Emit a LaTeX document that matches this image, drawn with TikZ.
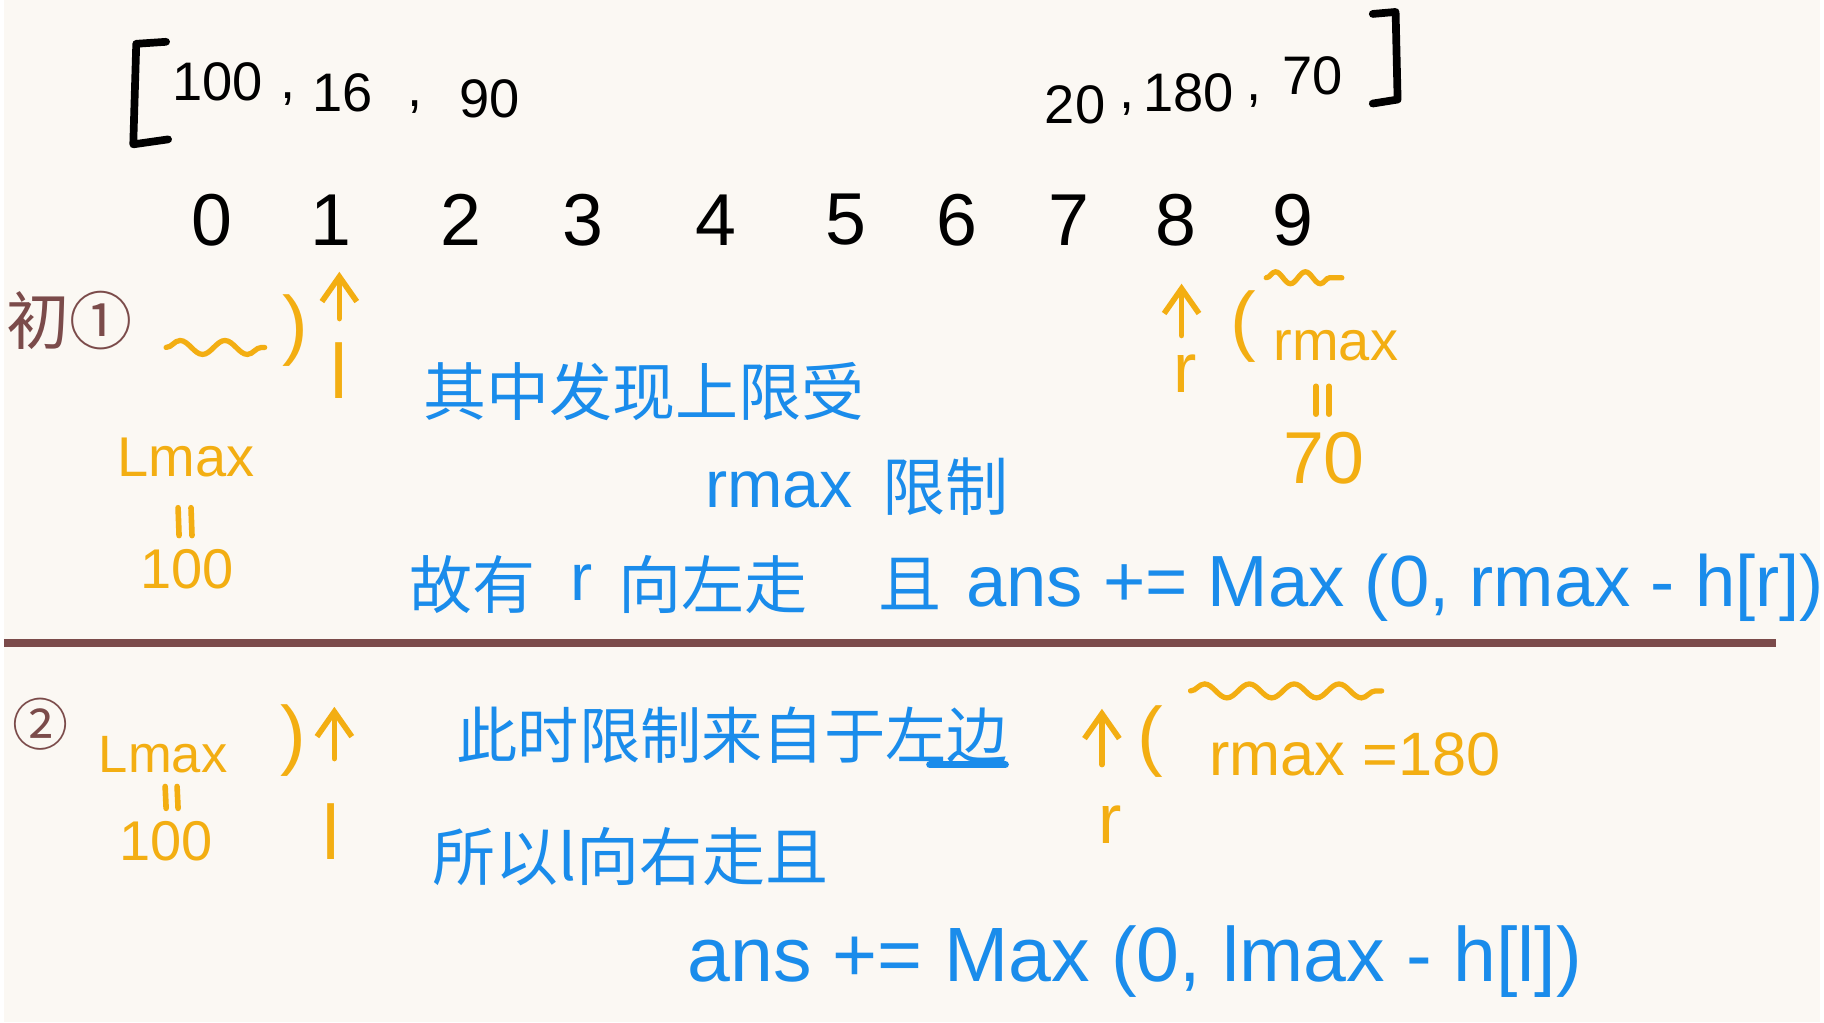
\documentclass[tikz,border=0pt]{standalone}
\usepackage{fontspec}
\setmainfont{Liberation Sans}
\newfontfamily\cjk{Noto Sans CJK SC}
\usetikzlibrary{arrows.meta,decorations.pathmorphing}
\definecolor{bg}{HTML}{FBF8F3}
\definecolor{hblue}{HTML}{1A8CEB}
\definecolor{horange}{HTML}{F3AE12}
\definecolor{hbrown}{HTML}{7B4B4A}
\begin{document}
\begin{tikzpicture}[x=0.01cm,y=-0.01cm,
  every node/.style={inner sep=0pt},
  numtop/.style={text=black,font=\fontsize{15.5}{16}\selectfont},
  idx/.style={text=black,font=\fontsize{21}{22}\selectfont},
  bl/.style={text=hblue,font=\cjk\fontsize{18}{19}\selectfont,anchor=west},
  blf/.style={text=hblue,font=\fontsize{19}{20}\selectfont,anchor=west},
  og/.style={text=horange,font=\fontsize{16}{17}\selectfont},
  br/.style={text=hbrown,font=\cjk\fontsize{18}{19}\selectfont,anchor=west},
  parrow/.style={draw=horange,line width=1.6pt,line cap=round,-{Straight Barb[length=2.5mm,width=3.5mm]}},
  wavy/.style={draw=horange,line width=1.5pt,line cap=round,decorate,decoration={snake,segment length=4.5mm,amplitude=0.7mm}},
  eqbar/.style={draw=horange,line width=1.6pt,line cap=round},
  brk/.style={draw=black,line width=2.2pt,line cap=round,line join=round}]
\path[fill=bg] (0,0) rectangle (1824,1027);
% top array
\draw[brk] (163,42) -- (133,44) -- (130,145) -- (165,140);
\node[numtop] (a0) at (215,82) {100};
\node[numtop] (c0) at (285,100) {,};
\node[numtop] (a1) at (340,93) {16};
\node[numtop] (c1) at (413,108) {,};
\node[numtop] (a2) at (488,99) {90};
\node[numtop] (a7) at (1076,105) {20};
\node[numtop] (c7) at (1128,110) {,};
\node[numtop] (a8) at (1190,93) {180};
\node[numtop] (c8) at (1256,102) {,};
\node[numtop] (a9) at (1315,76) {70};
\draw[brk] (1375,14) -- (1398,12) -- (1400,100) -- (1375,104);
% indices
\foreach \i/\x in {0/209,1/329,2/459,3/582,4/715,5/846,6/957,7/1070,8/1177,9/1295}
  \node[idx] (i\i) at (\x,221) {\i};
% section 1
\node[br] (s1) at (2,322) {初①};
\draw[wavy] (163,349) -- (262,349);
\node[og,font=\fontsize{22}{22}\selectfont] (p1) at (293,332) {)};
\coordinate (t1) at (337,273);
\node[og,font=\fontsize{22}{22}\selectfont] (l1) at (337,372) {l};
\draw[parrow] (337,320) -- (t1);
\node[og] (lm1) at (183,460) {Lmax};
\draw[eqbar] (175,510) -- (176,538) (188,510) -- (189,538);
\node[og] (lv1) at (184,572) {100};
\coordinate (t2) at (1183,285);
\draw[parrow] (1183,337) -- (t2);
\node[og,font=\fontsize{20}{20}\selectfont] (r1) at (1187,375) {r};
\node[og,font=\fontsize{22}{22}\selectfont] (q1) at (1245,328) {(};
\draw[wavy,decoration={snake,segment length=3mm,amplitude=0.6mm}] (1268,279) -- (1344,279);
\node[og] (rm1) at (1338,347) {rmax};
\draw[eqbar] (1318,388) -- (1318,416) (1331,388) -- (1331,416);
\node[og,font=\fontsize{21}{22}\selectfont] (rv1) at (1326,460) {70};
\node[bl] (b1) at (421,393) {其中发现上限受};
\node[blf] (b2a) at (704,492) {rmax};
\node[bl] (b2b) at (882,489) {限制};
\node[bl] (b3a) at (407,587) {故有};
\node[blf] (b3b) at (568,585) {r};
\node[bl] (b3c) at (617,587) {向左走};
\node[bl] (b3d) at (878,587) {且};
\node[blf,font=\fontsize{20.7}{21}\selectfont] (b3e) at (966,590) {ans += Max (0, rmax - h[r])};
% divider
\draw[hbrown,line width=2.2pt] (0,646) -- (1780,646);
% section 2
\node[br,font=\cjk\fontsize{16}{17}\selectfont] (s2) at (8,727) {②};
\node[og,font=\fontsize{15}{16}\selectfont] (lm2) at (160,758) {Lmax};
\draw[eqbar] (162,790) -- (163,812) (174,790) -- (175,812);
\node[og] (lv2) at (163,845) {100};
\node[og,font=\fontsize{22}{22}\selectfont] (p2) at (291,744) {)};
\coordinate (t3) at (332,710);
\draw[parrow] (332,762) -- (t3);
\node[og,font=\fontsize{22}{22}\selectfont] (l2) at (329,835) {l};
\coordinate (t4) at (1103,712);
\draw[parrow] (1103,768) -- (t4);
\node[og,font=\fontsize{20}{20}\selectfont] (r2) at (1111,828) {r};
\node[og,font=\fontsize{22}{22}\selectfont] (q2) at (1152,745) {(};
\draw[wavy] (1192,694) -- (1384,694);
\node[og,anchor=west,font=\fontsize{17.5}{18}\selectfont] (rm2) at (1210,758) {rmax =180};
\node[bl,font=\cjk\fontsize{17.5}{18}\selectfont] (b4) at (454,739) {此时限制来自于左边};
\draw[hblue,line width=2pt,line cap=round] (930,768) -- (1006,768);
\node[bl] (b5) at (430,861) {所以l向右走且};
\node[blf,font=\fontsize{22}{23}\selectfont] (b6) at (686,966) {ans += Max (0, lmax - h[l])};
\end{tikzpicture}
\end{document}
